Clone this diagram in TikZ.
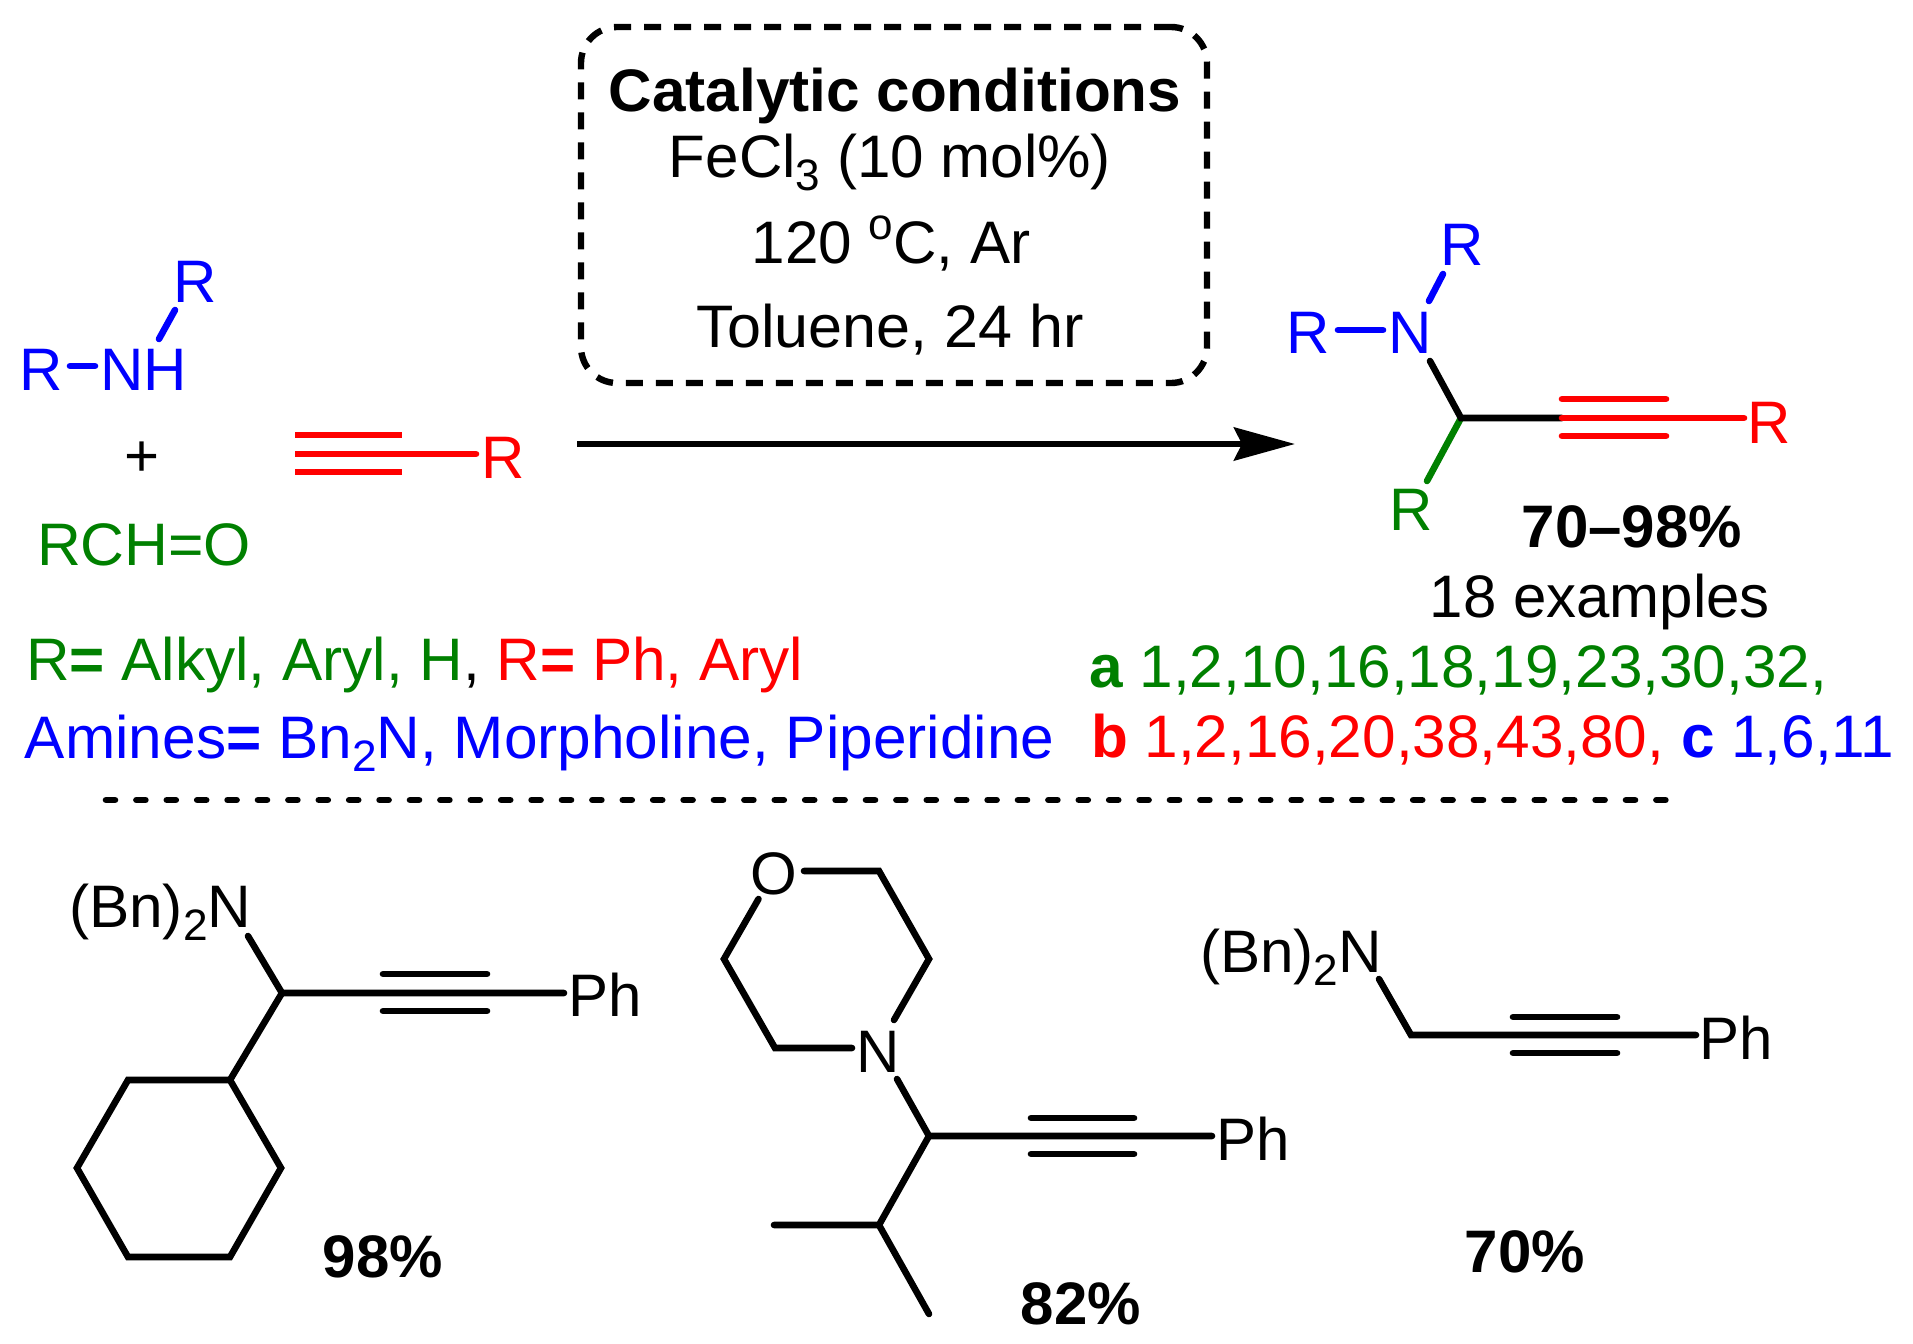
\documentclass[tikz,border=0pt]{standalone}
\usepackage{fontspec}
\usepackage{graphicx}
\setmainfont{Liberation Sans}
\usetikzlibrary{arrows.meta}
\definecolor{chemgreen}{RGB}{0,128,0}
\definecolor{chemblue}{RGB}{0,0,255}
\definecolor{chemred}{RGB}{255,0,0}
\newcommand{\subnum}[1]{\raisebox{-6.5pt}{\fontsize{22}{22}\selectfont #1}}
\newcommand{\degsign}{\raisebox{12pt}{\fontsize{22}{22}\selectfont o}}
\newcommand{\stretchtxt}[2]{\scalebox{#1}[1]{#2}}
\tikzset{
  lab/.style={font=\fontsize{30}{36}\selectfont,inner sep=0pt,outer sep=0pt,anchor=base west},
  labc/.style={lab,anchor=base},
  yield/.style={labc,font=\fontsize{30}{36}\selectfont\bfseries},
  bond/.style={line width=3.3pt,line cap=round,line join=miter},
}
\begin{document}
\begin{tikzpicture}[x=0.5pt,y=-0.5pt]
\useasboundingbox (0,0) rectangle (1913,1344);

% conditions box
\node[draw,line width=3.2pt,dash pattern=on 8.5pt off 6.5pt,rounded corners=18pt,minimum width=313pt,minimum height=178pt,inner sep=0pt] (box) at (894,205) {};
\node[yield] (cat) at (895,111) {\stretchtxt{1.004}{Catalytic conditions}};
\node[labc] (fe) at (890,177) {\stretchtxt{1.002}{FeCl\subnum{3} (10 mol\%)}};
\node[labc] (temp) at (891,263) {\stretchtxt{1.003}{120 \degsign C, Ar}};
\node[labc] (tol) at (890,347) {\stretchtxt{1.018}{Toluene, 24 hr}};

% reaction arrow
\coordinate (arrS) at (577,444);
\coordinate (arrE) at (1295,444);
\draw[line width=3.3pt,-{Stealth[length=30.5pt,width=16.5pt,inset=4pt]}] (arrS) -- (arrE);

% amine
\node[lab,text=chemblue] (amR) at (19,390) {R};
\node[lab,text=chemblue] (amNH) at (100,390) {NH};
\node[lab,text=chemblue] (amRt) at (173,302) {R};
\coordinate (am1) at (70,366); \coordinate (am2) at (95,366);
\coordinate (am3) at (159,339); \coordinate (am4) at (175,310);
\draw[bond,chemblue] (am1) -- (am2);
\draw[bond,chemblue] (am3) -- (am4);
\node[labc] (plus) at (142,476) {+};
\node[lab,text=chemgreen] (ald) at (37,565) {\stretchtxt{1.012}{RCH=O}};

% alkyne
\coordinate (al1a) at (295,435); \coordinate (al1b) at (402,435);
\coordinate (al2a) at (295,454); \coordinate (al2m) at (350,454); \coordinate (al2b) at (476,454);
\coordinate (al3a) at (295,472); \coordinate (al3b) at (402,472);
\draw[bond,chemred] (al2m) -- (al2b);
\draw[bond,chemred,line cap=butt] (al2a) -- (al2m);
\draw[bond,chemred,line cap=butt] (al1a) -- (al1b);
\draw[bond,chemred,line cap=butt] (al3a) -- (al3b);
\node[lab,text=chemred] (alR) at (481,478) {R};

% product
\node[lab,text=chemblue] (pRl) at (1286,353) {R};
\node[lab,text=chemblue] (pN) at (1388,353) {N};
\node[lab,text=chemblue] (pRt) at (1440,265) {R};
\node[lab,text=chemred] (pRr) at (1747,443) {R};
\node[lab,text=chemgreen] (pRg) at (1389,530) {R};
\coordinate (p1) at (1338,330); \coordinate (p2) at (1383,330);
\coordinate (p3) at (1429,301); \coordinate (p4) at (1443,274);
\coordinate (p5) at (1430,361); \coordinate (pC) at (1461,418);
\coordinate (pT) at (1562,418); \coordinate (pTe) at (1744,418);
\coordinate (p6) at (1427,481);
\coordinate (pa1) at (1562,399); \coordinate (pa2) at (1666,399);
\coordinate (pb1) at (1562,436); \coordinate (pb2) at (1666,436);
\draw[bond,chemgreen] (pC) -- (p6);
\draw[bond,chemblue] (p1) -- (p2);
\draw[bond,chemblue] (p3) -- (p4);
\draw[bond] (p5) -- (pC) -- (pT);
\draw[bond,chemred] (pT) -- (pTe);
\draw[bond,chemred] (pa1) -- (pa2);
\draw[bond,chemred] (pb1) -- (pb2);
\node[yield] (prange) at (1632,547) {70–98\%};
\node[labc] (nex) at (1600,617) {18 examples};

% scope lines
\node[lab] (scopeA) at (26,680) {\stretchtxt{1.005}{\textcolor{chemgreen}{R\textbf{=} Alkyl, Aryl, H}, \textcolor{chemred}{R\textbf{=} Ph, Aryl}}};
\node[lab,text=chemblue] (scopeB) at (25,758) {\stretchtxt{1.006}{Amines\textbf{=} Bn\subnum{2}N, Morpholine, Piperidine}};
\node[lab,text=chemgreen] (lineA) at (1089,687) {\stretchtxt{1.005}{\textbf{a} 1,2,10,16,18,19,23,30,32,}};
\node[lab] (lineB) at (1091,757) {\stretchtxt{1.005}{\textcolor{chemred}{\textbf{b} 1,2,16,20,38,43,80,} \textcolor{chemblue}{\textbf{c} 1,6,11}}};

% separator
\coordinate (sepS) at (106,800); \coordinate (sepE) at (1668,800);
\draw[line width=3.3pt,line cap=round,dash pattern=on 4.5pt off 10.7pt] (sepS) -- (sepE);

% compound 98%
\node[lab] (aN) at (69,927) {\stretchtxt{1.006}{(Bn)\subnum{2}N}};
\node[lab] (aPh) at (568,1016) {Ph};
\coordinate (a0) at (248,936); \coordinate (aC) at (282,993);
\coordinate (aE) at (564,993);
\coordinate (a1) at (230,1080); \coordinate (a2) at (128,1080);
\coordinate (a3) at (77,1168); \coordinate (a4) at (128,1257);
\coordinate (a5) at (230,1257); \coordinate (a6) at (281,1168);
\coordinate (at1) at (383,974); \coordinate (at2) at (487,974);
\coordinate (ab1) at (383,1011); \coordinate (ab2) at (487,1011);
\draw[bond] (a0) -- (aC) -- (aE);
\draw[bond] (aC) -- (a1);
\draw[bond] (a1) -- (a2) -- (a3) -- (a4) -- (a5) -- (a6) -- cycle;
\draw[bond] (at1) -- (at2);
\draw[bond] (ab1) -- (ab2);
\node[yield] (ya) at (383,1277) {98\%};

% compound 82%
\node[labc] (bO) at (774,894) {O};
\node[labc] (bN) at (878,1072) {N};
\node[lab] (bPh) at (1216,1160) {Ph};
\coordinate (b1) at (804,871); \coordinate (b2) at (879,871);
\coordinate (b3) at (929,959); \coordinate (b4) at (894,1020);
\coordinate (b5) at (852,1048); \coordinate (b6) at (775,1048);
\coordinate (b7) at (724,959); \coordinate (b8) at (758.5,899);
\coordinate (b9) at (897,1079); \coordinate (bC) at (929,1136);
\coordinate (bE) at (1212,1136); \coordinate (bD) at (879,1225);
\coordinate (bM1) at (774,1225); \coordinate (bM2) at (929,1314);
\coordinate (bt1) at (1031,1118); \coordinate (bt2) at (1134,1118);
\coordinate (bb1) at (1031,1154); \coordinate (bb2) at (1134,1154);
\draw[bond] (b1) -- (b2) -- (b3) -- (b4);
\draw[bond] (b5) -- (b6) -- (b7) -- (b8);
\draw[bond] (b9) -- (bC) -- (bE);
\draw[bond] (bC) -- (bD) -- (bM1);
\draw[bond] (bD) -- (bM2);
\draw[bond] (bt1) -- (bt2);
\draw[bond] (bb1) -- (bb2);
\node[yield] (yb) at (1081,1324) {82\%};

% compound 70%
\node[lab] (cN) at (1200,972) {\stretchtxt{1.003}{(Bn)\subnum{2}N}};
\node[lab] (cPh) at (1699,1059) {Ph};
\coordinate (c0) at (1379,979); \coordinate (cC) at (1411,1035);
\coordinate (cE) at (1696,1035);
\coordinate (ct1) at (1513,1017); \coordinate (ct2) at (1617,1017);
\coordinate (cb1) at (1513,1053); \coordinate (cb2) at (1617,1053);
\draw[bond] (c0) -- (cC) -- (cE);
\draw[bond] (ct1) -- (ct2);
\draw[bond] (cb1) -- (cb2);
\node[yield] (yc) at (1525,1272) {70\%};
\end{tikzpicture}
\end{document}
